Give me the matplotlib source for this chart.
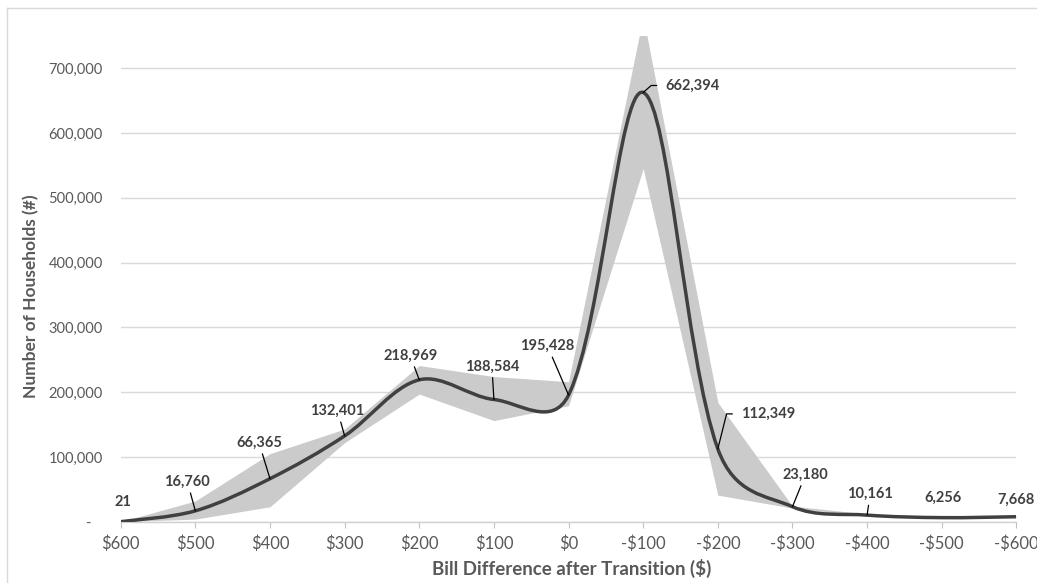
import numpy as np
import matplotlib.pyplot as plt
from matplotlib.path import Path
from matplotlib.patches import PathPatch
from matplotlib.lines import Line2D
from matplotlib.ticker import FuncFormatter, MultipleLocator

plt.rcParams['font.family'] = ['Lato', 'DejaVu Sans']

# Data
categories = ['$600', '$500', '$400', '$300', '$200', '$100', '$0',
              '-$100', '-$200', '-$300', '-$400', '-$500', '-$600']
households = [21, 16760, 66365, 132401, 218969, 188584, 195428,
              662394, 112349, 23180, 10161, 6256, 7668]
band_low = [21, 4000, 23000, 122000, 197000, 156000, 179000,
            545000, 41000, 21000, 9000, 5500, 7000]
band_high = [21, 32000, 105000, 143000, 241000, 224000, 216000,
             780000, 184000, 24000, 12000, 7000, 8300]

# Label placement (pixel offsets from each point) and leader type
label_offsets = [(2, 20), (-8, 29), (-11, 36), (-7, 25), (-9, 24), (-2, 33),
                 (-21, 49), (49, 7), (50, 35), (13, 32), (3, 21), (1, 20), (0, 17)]
leader = ['none', 'line', 'line', 'line', 'line', 'line', 'line',
          'elbow', 'elbow', 'line', 'line', 'none', 'none']
elbow_angle = {7: 41, 8: 76}

W, H = 1037, 583
YMAX = 750000
ax_box = [120.7, 35.7, 1016.4, 521.7]  # left, top, right, bottom in pixels
fig = plt.figure(figsize=(W / 100, H / 100), dpi=100)
ax = fig.add_axes([ax_box[0] / W, 1 - ax_box[3] / H,
                   (ax_box[2] - ax_box[0]) / W, (ax_box[3] - ax_box[1]) / H])

x = np.arange(len(categories))

# Shaded range
ax.fill_between(x, band_low, band_high, color='#cbcbcb', lw=0, zorder=2)

# Smoothed line: bezier through the points, tangents scaled by segment length
# (measured on screen) so short segments next to long ones do not overshoot
sx = (ax_box[2] - ax_box[0]) / (len(categories) - 1)
sy = (ax_box[3] - ax_box[1]) / YMAX
pts = np.column_stack([x, households]).astype(float)
n = len(pts)
seg = np.hypot(np.diff(pts[:, 0]) * sx, np.diff(pts[:, 1]) * sy)
tan = np.zeros_like(pts)
fwd = np.ones(n)
back = np.ones(n)
for i in range(n):
    a = pts[max(i - 1, 0)]
    b = pts[min(i + 1, n - 1)]
    tan[i] = (b - a) / 6
    if 0 < i < n - 1:
        r1, r2 = np.sqrt(seg[i - 1]), np.sqrt(seg[i])
        back[i] = 2 * r1 / (r1 + r2)
        fwd[i] = 2 * r2 / (r1 + r2)
verts = [tuple(pts[0])]
codes = [Path.MOVETO]
for i in range(n - 1):
    c1 = pts[i] + tan[i] * fwd[i]
    c2 = pts[i + 1] - tan[i + 1] * back[i + 1]
    verts += [tuple(c1), tuple(c2), tuple(pts[i + 1])]
    codes += [Path.CURVE4] * 3
ax.add_patch(PathPatch(Path(verts, codes), fill=False, edgecolor='#404040',
                       lw=2.5, zorder=3, capstyle='butt'))

# Data labels
for i, v in enumerate(households):
    dx, dy = label_offsets[i]
    kw = dict(xy=(i, v), xytext=(dx, dy), textcoords='offset pixels',
              ha='center', va='center', fontsize=10.5, fontweight='bold',
              color='#404040', zorder=5)
    if leader[i] == 'line':
        kw['arrowprops'] = dict(arrowstyle='-', color='black', lw=0.9,
                                shrinkA=1, shrinkB=0)
    elif leader[i] == 'elbow':
        kw['arrowprops'] = dict(arrowstyle='-', color='black', lw=0.9,
                                shrinkA=4, shrinkB=0, relpos=(0, 0.5),
                                connectionstyle='angle,angleA=0,angleB=%d,rad=0' % elbow_angle[i])
    ax.annotate('{:,}'.format(v), **kw)

ax.set_xlim(0, len(categories) - 1)
ax.set_ylim(0, YMAX)
ax.set_xticks(x)
ax.set_xticklabels(categories)
ax.yaxis.set_major_locator(MultipleLocator(100000))
ax.yaxis.set_major_formatter(FuncFormatter(lambda v, p: '-   ' if v == 0 else '{:,.0f}'.format(v)))
ax.grid(axis='y', color='#d9d9d9', lw=1.0, zorder=0)
ax.set_axisbelow(True)
for s in ['top', 'right', 'left']:
    ax.spines[s].set_visible(False)
ax.spines['bottom'].set_color('#d0d0d0')
ax.spines['bottom'].set_linewidth(1.0)
ax.tick_params(axis='y', length=0, pad=13, labelsize=10.5, labelcolor='#595959')
ax.tick_params(axis='x', length=4, color='#c0c0c0', pad=6, labelsize=12, labelcolor='#595959')

# Axis titles
fig.text(31 / W, 1 - 296 / H, 'Number of Households (#)', rotation=90,
         ha='center', va='center', fontsize=12.5, fontweight='bold', color='#595959')
fig.text(572 / W, 1 - 568 / H, 'Bill Difference after Transition ($)',
         ha='center', va='center', fontsize=13.5, fontweight='bold', color='#595959')

# Chart border (left and top edges)
fig.add_artist(Line2D([7 / W, 7 / W], [0, 1 - 8 / H], transform=fig.transFigure, color='#d9d9d9', lw=1))
fig.add_artist(Line2D([7 / W, 1], [1 - 8 / H, 1 - 8 / H], transform=fig.transFigure, color='#d9d9d9', lw=1))

fig.savefig('out.png', dpi=100)
